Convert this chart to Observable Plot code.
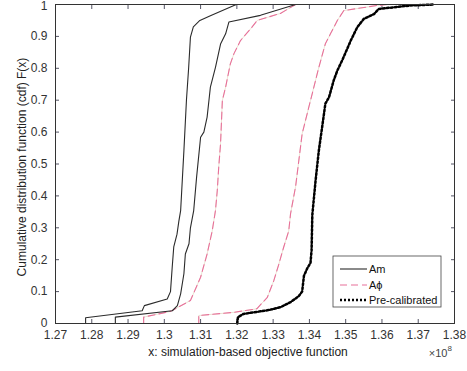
<!DOCTYPE html>
<html><head><meta charset="utf-8">
<script src="https://cdn.jsdelivr.net/npm/d3@7"></script>
<script src="https://cdn.jsdelivr.net/npm/@observablehq/plot@0.6"></script>
<style>
html,body{margin:0;padding:0;background:#fff;}
#chart{position:relative;width:467px;height:371px;}
#chart svg{overflow:visible;}
</style></head><body><div id="chart"></div>
<script>
// Tick values
const xTicks = [1.27, 1.28, 1.29, 1.30, 1.31, 1.32, 1.33, 1.34, 1.35, 1.36, 1.37, 1.38];
const yTicks = [0, 0.1, 0.2, 0.3, 0.4, 0.5, 0.6, 0.7, 0.8, 0.9, 1];

// Series names
const seriesNames = ["Am", "A\u03d5", "Pre-calibrated"];

// Am (two runs)
const am1X = [1.2783, 1.2783, 1.2939, 1.2945, 1.3008, 1.3017, 1.3022, 1.3026, 1.3035, 1.3040, 1.3045, 1.3054, 1.3061, 1.3067, 1.3072, 1.3080, 1.3098, 1.3127, 1.3192, 1.3199];
const am1Y = [0, 0.018, 0.040, 0.056, 0.077, 0.100, 0.180, 0.240, 0.280, 0.320, 0.354, 0.542, 0.700, 0.800, 0.898, 0.930, 0.950, 0.965, 0.997, 1.000];
const am2X = [1.2865, 1.2865, 1.3022, 1.3036, 1.3045, 1.3054, 1.3058, 1.3068, 1.3072, 1.3081, 1.3089, 1.3100, 1.3109, 1.3118, 1.3123, 1.3127, 1.3141, 1.3155, 1.3169, 1.3178, 1.3265, 1.3362];
const am2Y = [0, 0.020, 0.040, 0.056, 0.093, 0.156, 0.218, 0.250, 0.300, 0.354, 0.459, 0.584, 0.600, 0.647, 0.699, 0.741, 0.803, 0.876, 0.908, 0.945, 0.966, 1.000];

// A-phi (two runs)
const aphi1X = [1.2943, 1.2943, 1.3017, 1.3072, 1.3100, 1.3118, 1.3132, 1.3141, 1.3146, 1.3150, 1.3155, 1.3160, 1.3169, 1.3182, 1.3192, 1.3210, 1.3238, 1.3256, 1.3320, 1.3362];
const aphi1Y = [0, 0.020, 0.038, 0.072, 0.145, 0.218, 0.290, 0.354, 0.417, 0.490, 0.563, 0.699, 0.741, 0.814, 0.846, 0.887, 0.924, 0.950, 0.972, 1.000];
const aphi2X = [1.3095, 1.3095, 1.3192, 1.3255, 1.3284, 1.3302, 1.3316, 1.3329, 1.3343, 1.3348, 1.3362, 1.3380, 1.3403, 1.3426, 1.3444, 1.3458, 1.3477, 1.3495, 1.3587, 1.3615];
const aphi2Y = [0, 0.025, 0.035, 0.046, 0.082, 0.135, 0.187, 0.239, 0.290, 0.344, 0.430, 0.595, 0.699, 0.803, 0.877, 0.908, 0.950, 0.981, 0.997, 1.000];

// Pre-calibrated
const preX = [1.3201, 1.3203, 1.3218, 1.3287, 1.3320, 1.3348, 1.3370, 1.3380, 1.3385, 1.3395, 1.3403, 1.3406, 1.3408, 1.3417, 1.3426, 1.3435, 1.3444, 1.3454, 1.3467, 1.3477, 1.3490, 1.3500, 1.3514, 1.3532, 1.3550, 1.3578, 1.3591, 1.3679, 1.3743];
const preY = [0, 0.020, 0.030, 0.042, 0.051, 0.067, 0.085, 0.100, 0.150, 0.175, 0.190, 0.230, 0.340, 0.448, 0.542, 0.615, 0.689, 0.709, 0.762, 0.793, 0.824, 0.850, 0.887, 0.929, 0.955, 0.970, 0.986, 0.997, 1.000];

const toRows = (xs, ys) => xs.map((x, i) => ({x, y: ys[i]}));
const am1 = toRows(am1X, am1Y), am2 = toRows(am2X, am2Y);
const aphi1 = toRows(aphi1X, aphi1Y), aphi2 = toRows(aphi2X, aphi2Y);
const pre = toRows(preX, preY);

const SOLID = "#2b2b2b", DASH = "#e8709a", DASH_UNDER = "#e4dcc6";
const DOT = "2,2", DOTW = 2.5;
const fmt = d => String(+d.toFixed(2));
const FONT = "'Liberation Sans', Arial, Helvetica, sans-serif";
const lastY = yTicks[yTicks.length - 1];

const chart = Plot.plot({
  width: 467, height: 371,
  marginLeft: 55, marginRight: 13, marginTop: 4, marginBottom: 48,
  style: {fontFamily: FONT, fontSize: "12px", color: "#333", background: "#fff", overflow: "visible"},
  x: {domain: [1.27, 1.38]},
  y: {domain: [0, 1]},
  marks: [
    Plot.axisX(xTicks, {anchor: "bottom", tickSize: -4, tickPadding: 11, tickFormat: fmt, label: null, stroke: "#556"}),
    Plot.axisX(xTicks, {anchor: "top", tickSize: -4, tickFormat: () => "", label: null, stroke: "#556"}),
    Plot.axisY(yTicks, {anchor: "left", tickSize: -4, tickPadding: 12, tickFormat: d => d === lastY ? "" : fmt(d), label: null, stroke: "#556"}),
    Plot.axisY([lastY], {anchor: "left", tickSize: 0, tickPadding: 8, tickFormat: fmt, label: null, dy: 1.5}),
    Plot.axisY(yTicks, {anchor: "right", tickSize: -4, tickFormat: () => "", label: null, stroke: "#556"}),
    Plot.line(aphi1, {x: "x", y: "y", stroke: DASH_UNDER, strokeWidth: 0.8}),
    Plot.line(aphi2, {x: "x", y: "y", stroke: DASH_UNDER, strokeWidth: 0.8}),
    Plot.line(aphi1, {x: "x", y: "y", stroke: DASH, strokeWidth: 1.1, strokeDasharray: "7,4"}),
    Plot.line(aphi2, {x: "x", y: "y", stroke: DASH, strokeWidth: 1.1, strokeDasharray: "7,4"}),
    Plot.line(am1, {x: "x", y: "y", stroke: SOLID, strokeWidth: 1.1}),
    Plot.line(am2, {x: "x", y: "y", stroke: SOLID, strokeWidth: 1.1}),
    Plot.line(pre, {x: "x", y: "y", stroke: "#000", strokeWidth: DOTW, strokeDasharray: DOT}),
    Plot.frame({stroke: "#333", strokeWidth: 1}),
    Plot.text(["Cumulative distribution function (cdf) F(x)"], {frameAnchor: "left", textAnchor: "middle", rotate: -90, dx: -33, dy: 3, fontSize: 12, fill: "#222"}),
    Plot.text(["x: simulation-based objective function"], {frameAnchor: "bottom", dx: -7, dy: 32, fontSize: 12, fill: "#222"}),
    Plot.text(["\u00d710"], {frameAnchor: "bottom-right", textAnchor: "end", dx: -7, dy: 33, fontSize: 11, fill: "#444"}),
    Plot.text(["8"], {frameAnchor: "bottom-right", textAnchor: "start", dx: -7, dy: 27, fontSize: 8, fill: "#444"})
  ]
});
document.getElementById("chart").appendChild(chart);

// Legend inside the plot (bottom-right)
const svg = d3.select(chart);
const xs = chart.scale("x"), ys = chart.scale("y");
const right = xs.apply(1.38), bottom = ys.apply(0);
const bw = 108, bh = 51;
const g = svg.append("g").attr("transform", `translate(${right - 13 - bw},${bottom - 16 - bh})`)
  .attr("font-family", FONT).attr("font-size", 11).attr("text-anchor", "start");
g.append("rect").attr("width", bw).attr("height", bh).attr("fill", "#fff").attr("stroke", "#444").attr("stroke-width", 0.8);
const styles = [
  {stroke: SOLID, w: 1.1, dash: null},
  {stroke: DASH, w: 1.1, dash: "7,4"},
  {stroke: "#000", w: DOTW, dash: DOT}
];
const rowY = [13, 29, 44];
seriesNames.forEach((name, i) => {
  g.append("line").attr("x1", 7).attr("x2", 34).attr("y1", rowY[i]).attr("y2", rowY[i])
    .attr("stroke", styles[i].stroke).attr("stroke-width", styles[i].w)
    .attr("stroke-dasharray", styles[i].dash);
  g.append("text").attr("x", 36).attr("y", rowY[i]).attr("dy", "0.35em").attr("text-anchor", "start").attr("fill", "#111").text(name);
});
</script></body></html>
